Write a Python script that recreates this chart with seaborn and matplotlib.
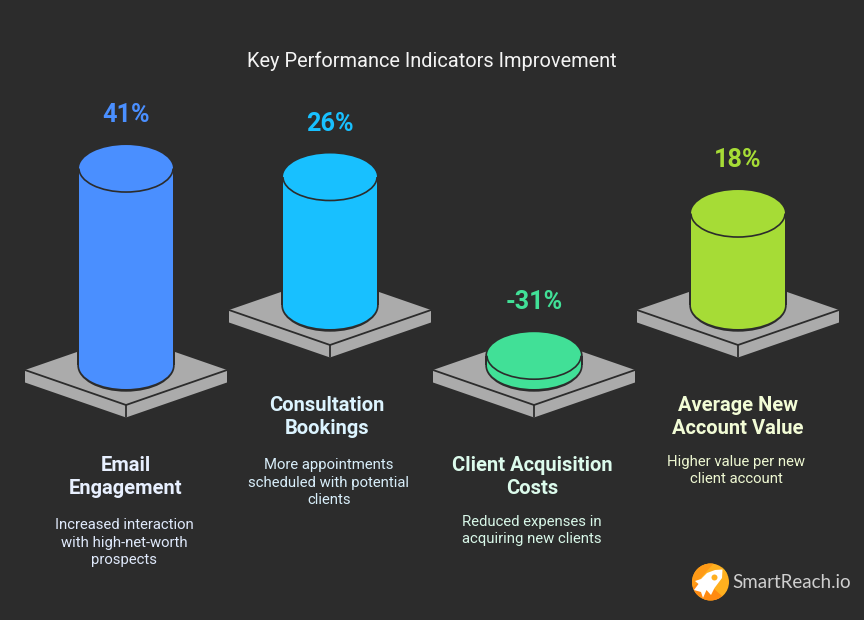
import matplotlib
matplotlib.use('Agg')
import matplotlib.pyplot as plt
from matplotlib.patches import Arc, Circle, Ellipse, Polygon
import seaborn as sns

# Data
kpi_names = ['Email\nEngagement', 'Consultation\nBookings', 'Client Acquisition\nCosts', 'Average New\nAccount Value']
kpi_values = [41, 26, -31, 18]
column_levels = [41, 26, 0, 18]  # the cost column is drawn as a flat stub
kpi_notes = ['Increased interaction\nwith high-net-worth\nprospects',
             'More appointments\nscheduled with potential\nclients',
             'Reduced expenses in\nacquiring new clients',
             'Higher value per new\nclient account']

# Colours
bg = '#2c2c2c'
bar_colors = ['#4a8fff', '#18c0ff', '#41e097', '#a6dc36']
head_colors = ['#e8f0ff', '#dcf4ff', '#dcfbec', '#f2fcd6']
note_colors = ['#dfe9fb', '#d8eefa', '#d8f7e8', '#eef8d2']
plate = '#ababab'

# Layout, in pixels of the 864x620 picture
PX_X = 204.0    # pixels between columns
PX_Y = 4.565    # pixels per percentage point
ZERO_PX = 355.7
row_shift = [0, 60, 0, 60]
stub = 9.8
semi_a = 47.0
semi_b = 23.5
head_y = [477, 417, 477, 417]
head_x = [126, 327, 532, 738]
note_y = [542.5, 482.5, 530.5, 470.5]
note_x = [124, 329, 532, 736]

sns.set_theme(style='dark')
plt.rcParams['font.family'] = ['Roboto', 'DejaVu Sans']

fig = plt.figure(figsize=(8.64, 6.2), dpi=100, facecolor=bg)
ax = fig.add_axes([0, 0, 1, 1], facecolor=bg)

sns.barplot(x=kpi_names, y=column_levels, hue=kpi_names, palette=bar_colors,
            saturation=1, width=94 / PX_X, dodge=False, legend=False,
            linewidth=0, ax=ax, zorder=4)

ax.set_xlim(-126 / PX_X, 738 / PX_X)
ax.set_ylim(-(620 - ZERO_PX) / PX_Y, ZERO_PX / PX_Y)
ax.axis('off')


def dx(p):
    return p / PX_X


def dy(p):
    return p / PX_Y


for i, bar in enumerate(ax.patches[:4]):
    level = column_levels[i]
    cx = bar.get_x() + bar.get_width() / 2
    # back row sits higher on the page
    base = dy(row_shift[i]) - dy(stub)
    bar.set_y(base)
    bar.set_height(level + dy(stub))
    top = base + level + dy(stub)
    pc = base - dy(4.5)  # plate centre

    # plate: top face, then side faces and the dark seams
    hw, hh, th = dx(101), dy(35), dy(12.5)
    ax.add_patch(Polygon([(cx - hw, pc), (cx, pc + hh), (cx + hw, pc), (cx + hw, pc - th),
                          (cx, pc - hh - th), (cx - hw, pc - th)],
                         closed=True, fc=plate, ec='none', zorder=1))
    ax.plot([cx - hw, cx, cx + hw], [pc, pc - hh, pc], color=bg, lw=1.3, zorder=2)
    ax.plot([cx, cx], [pc - hh, pc - hh - th], color=bg, lw=1.3, zorder=2)

    # dark halo around the column, visible only over the plate
    ax.add_patch(Ellipse((cx, base), dx(2 * semi_a + 3.4), dy(2 * semi_b + 5.4), fc=bg, ec='none', zorder=3))
    ax.add_patch(Polygon([(cx - dx(semi_a + 1.7), base), (cx - dx(semi_a + 1.7), top),
                          (cx + dx(semi_a + 1.7), top), (cx + dx(semi_a + 1.7), base)],
                         closed=True, fc=bg, ec='none', zorder=3))
    ax.add_patch(Ellipse((cx, top), dx(2 * semi_a + 3.4), dy(2 * semi_b + 2), fc=bg, ec='none', zorder=3))

    # body and caps
    ax.add_patch(Ellipse((cx, base), dx(2 * semi_a), dy(2 * semi_b), fc=bar_colors[i], ec='none', zorder=4))
    ax.add_patch(Ellipse((cx, top), dx(2 * semi_a), dy(2 * semi_b), fc=bar_colors[i], ec='none', zorder=5))
    ax.add_patch(Arc((cx, top), dx(2 * semi_a), dy(2 * semi_b), theta1=180, theta2=360,
                     ec=bg, lw=1.2, zorder=6))

    ax.annotate(f'{kpi_values[i]}%', (cx, top), xytext=(0, 53.5), textcoords='offset pixels',
                ha='center', va='center', fontsize=18.2, fontweight='bold',
                color=bar_colors[i], zorder=7)

# Overlay in plain picture pixels for the captions and the logo
ov = fig.add_axes([0, 0, 1, 1], facecolor='none')
ov.set_xlim(0, 864)
ov.set_ylim(620, 0)
ov.axis('off')

ov.text(432, 61, 'Key Performance Indicators Improvement', ha='center', va='center',
        fontsize=14.4, color='#f4f4f4')

for i in range(4):
    ov.text(head_x[i], head_y[i], kpi_names[i], ha='center', va='center', fontsize=14.5,
            fontweight='bold', color=head_colors[i], linespacing=1.28)
    ov.text(note_x[i], note_y[i], kpi_notes[i], ha='center', va='center', fontsize=10.7,
            color=note_colors[i], linespacing=1.33)

# Logo: faceted disc with a white rocket
disc = Circle((710.5, 582), 18.5, fc='#ffb01f', ec='none', zorder=2)
ov.add_patch(disc)
facets = [([(690, 590), (715, 562), (700, 560), (688, 575)], '#ff9a16'),
          ([(690, 590), (712, 605), (722, 596), (702, 578)], '#ff8a12'),
          ([(688, 588), (706, 606), (690, 606)], '#f1341c'),
          ([(716, 560), (732, 580), (732, 560)], '#ffd21f')]
for pts, col in facets:
    p = Polygon(pts, closed=True, fc=col, ec='none', zorder=3)
    ov.add_patch(p)
    p.set_clip_path(disc)
rocket = [(722.5, 569.5), (722, 578), (714.5, 588), (711, 595), (706.5, 590), (703, 598),
          (701, 592), (694, 590), (698.5, 584), (695, 581), (701, 579), (707, 573), (715, 570)]
ov.add_patch(Polygon(rocket, closed=True, fc='white', ec='none', zorder=4))
ov.add_patch(Circle((714.5, 577.5), 3, fc='#ffb01f', ec='none', zorder=5))
ov.text(732, 583, 'SmartReach.io', ha='left', va='center', fontsize=13.5,
        family=['Lato', 'DejaVu Sans'], color='#cfcfcf')

fig.savefig('out.png', dpi=100, facecolor=bg)
